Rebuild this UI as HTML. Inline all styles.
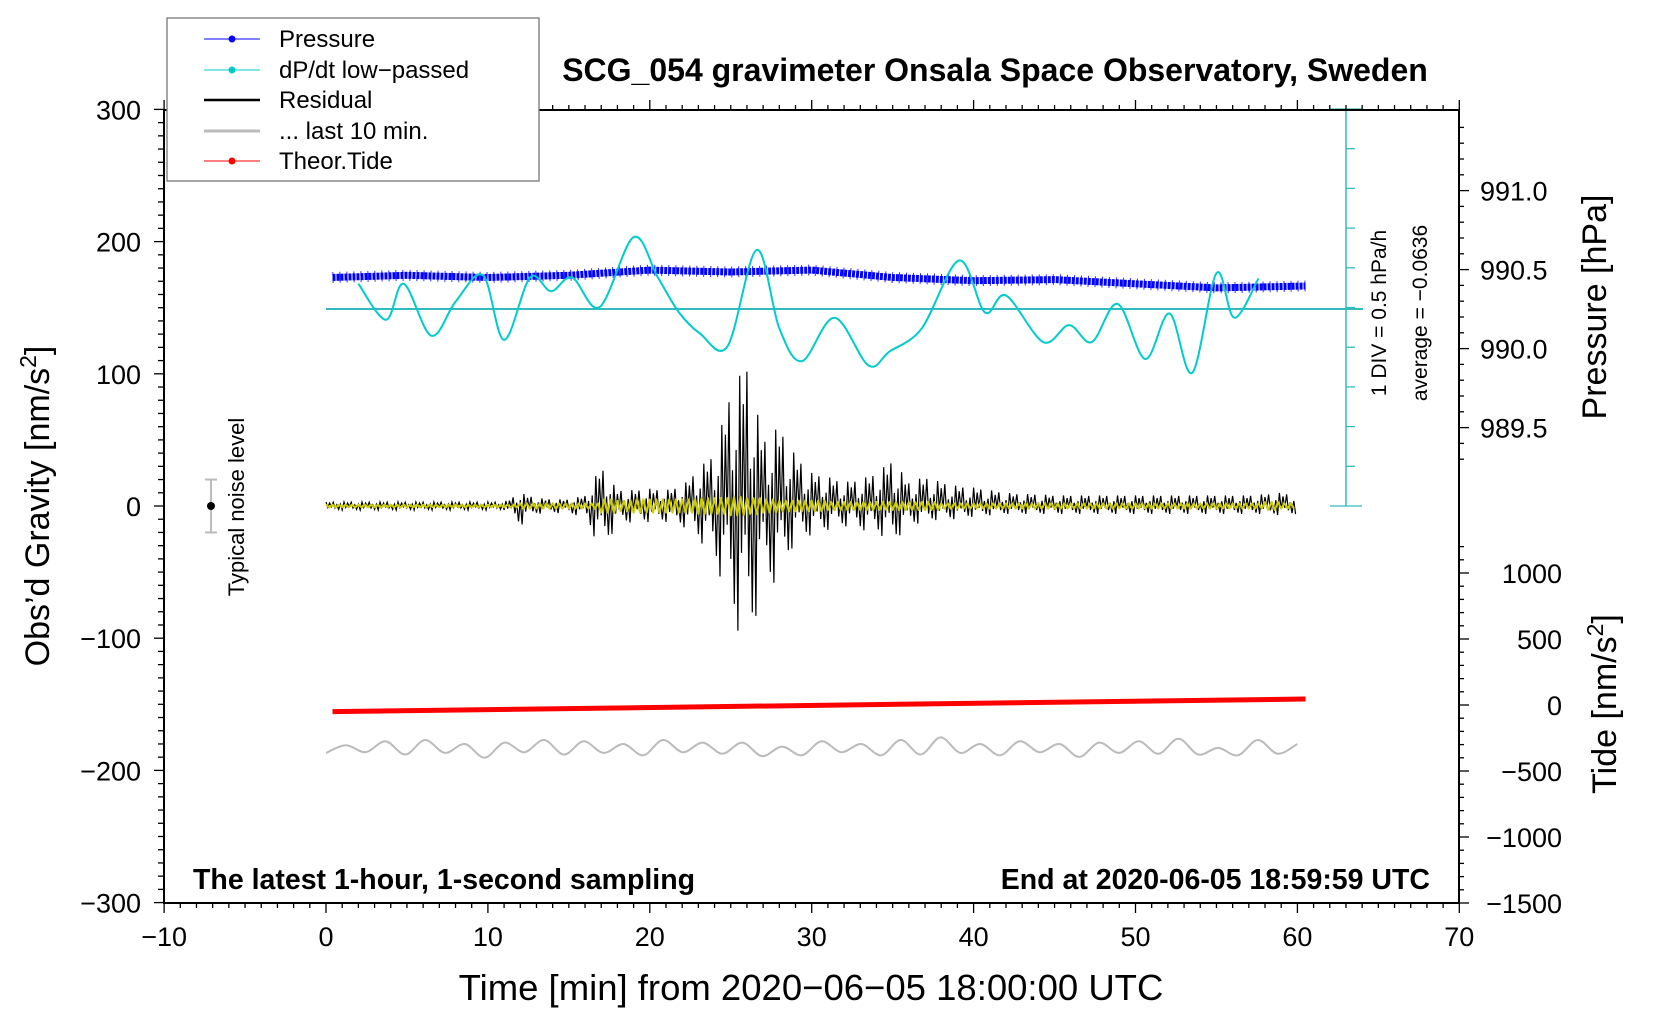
<!DOCTYPE html>
<html><head><meta charset="utf-8">
<style>
html,body{margin:0;padding:0;background:#fff;}
svg{display:block;font-family:"Liberation Sans",Arial,sans-serif;}
</style></head>
<body>
<svg id="chart" width="1660" height="1020" viewBox="0 0 1660 1020" xmlns="http://www.w3.org/2000/svg">
<rect x="0" y="0" width="1660" height="1020" fill="#fff"/>
<g id="marks"></g>
<g id="axes"></g>
<text x="995" y="81" text-anchor="middle" font-size="32" font-weight="bold">SCG_054 gravimeter Onsala Space Observatory, Sweden</text>
<text x="193" y="889" font-size="28.5" font-weight="bold">The latest 1-hour, 1-second sampling</text>
<text x="1430" y="889" text-anchor="end" font-size="28.5" font-weight="bold">End at 2020-06-05 18:59:59 UTC</text>
<text x="811" y="1000" text-anchor="middle" font-size="36.5">Time [min] from 2020−06−05 18:00:00 UTC</text>
<text transform="translate(49,506) rotate(-90)" text-anchor="middle" font-size="34">Obs’d Gravity [nm/s<tspan font-size="23" dy="-13">2</tspan><tspan dy="13">]</tspan></text>
<text transform="translate(1606,307) rotate(-90)" text-anchor="middle" font-size="34">Pressure [hPa]</text>
<text transform="translate(1616,704) rotate(-90)" text-anchor="middle" font-size="34">Tide [nm/s<tspan font-size="23" dy="-13">2</tspan><tspan dy="13">]</tspan></text>
<text transform="translate(1386,313) rotate(-90)" text-anchor="middle" font-size="21">1 DIV = 0.5 hPa/h</text>
<text transform="translate(1427,313) rotate(-90)" text-anchor="middle" font-size="21">average = −0.0636</text>
<text transform="translate(244,507) rotate(-90)" text-anchor="middle" font-size="22">Typical noise level</text>
<g>
<rect x="167" y="18" width="372" height="163" fill="#fff" stroke="#777" stroke-width="1.3"/>
<line x1="204" y1="39" x2="260" y2="39" stroke="#0000ff" stroke-width="1"/><circle cx="232" cy="39" r="3.5" fill="#0000ff"/>
<text x="279" y="47" font-size="24">Pressure</text>
<line x1="204" y1="70" x2="260" y2="70" stroke="#00cccc" stroke-width="1"/><circle cx="232" cy="70" r="3.5" fill="#00cccc"/>
<text x="279" y="78" font-size="24">dP/dt low−passed</text>
<line x1="204" y1="100" x2="260" y2="100" stroke="#000" stroke-width="2.5"/>
<text x="279" y="108" font-size="24">Residual</text>
<line x1="204" y1="131" x2="260" y2="131" stroke="#bbb" stroke-width="3"/>
<text x="279" y="139" font-size="24">... last 10 min.</text>
<line x1="204" y1="161" x2="260" y2="161" stroke="#ff0000" stroke-width="1"/><circle cx="232" cy="161" r="3.5" fill="#ff0000"/>
<text x="279" y="169" font-size="24">Theor.Tide</text>
</g>
</svg>
<script>
// ---- data ----
var xTicks = [-10,0,10,20,30,40,50,60,70];
var yTicks = [300,200,100,0,-100,-200,-300];
var pTicks = [991.0,990.5,990.0,989.5];
var tideTicks = [1000,500,0,-500,-1000,-1500];
var pressureTimes = [0.4,5,10,15,20,25,30,35,40,45,50,55,60.5];
var pressureVals = [990.450,990.464,990.450,990.464,990.497,990.485,990.497,990.450,990.430,990.437,990.410,990.384,990.396];
var dpdtTimes = [2,3.7,4.8,6.5,8,9.7,11,12.6,13.9,15.2,16.9,19,20.5,21.8,23.1,24.8,26.6,28,29.4,31.4,33.5,34.8,36.8,39.1,40.7,42,44.3,45.9,47.3,48.9,50.6,52.1,53.5,55,56.1,57.6];
var dpdtVals = [0.254,-0.200,0.254,-0.400,0.027,0.361,-0.453,0.333,0.161,0.333,-0.040,0.841,0.333,-0.106,-0.373,-0.533,0.681,-0.307,-0.720,-0.173,-0.774,-0.600,-0.307,0.547,-0.106,0.106,-0.480,-0.266,-0.480,0.001,-0.693,-0.120,-0.867,0.387,-0.173,0.321];
var dpdtAverage = -0.0636;
var residUp = [3,3,3,3,3,3,3,3,3,3,3,3,10,6,5,5,8,30,12,12,13,12,15,28,40,88,107,50,60,38,25,22,18,20,25,35,18,22,18,15,14,12,10,9,9,8,8,8,8,8,8,8,8,8,8,8,8,8,9,10,8];
var residDown = [-3,-3,-3,-3,-3,-3,-3,-3,-3,-3,-3,-3,-15,-6,-5,-6,-8,-35,-14,-12,-12,-12,-15,-25,-40,-80,-112,-60,-57,-25,-22,-18,-15,-18,-20,-28,-15,-12,-10,-10,-8,-7,-6,-6,-6,-6,-6,-6,-6,-6,-6,-6,-6,-6,-6,-6,-6,-6,-6,-7,-6];
var yellowAmp = [1,1,1,1,1,1,1,1,1,1,1,1,2,2,2,2,2,5,4,5,5,5,5,6,6,7,6,5,4,4,4,3,3,3,3,3,3,3,2,2,2,2,2,2,2,2,2,2,2,2,2,2,2,2,2,2,2,2,3,2,2];
var tideTimes = [0.4,60.5];
var tideVals = [-50,45];
var lastBase = -185;
var lastAmp = [3,4,2,7,5,8,3,5,9,6,2,8,5,7,3,5,6,8,2,6,4,6,7,3,6,7,2,5,6,8,5,10,3,5,6,7,2,5,8,6,3,7,4,9,5,2,6,8,4,5];
// ---- scales ----
function X(t){return 326 + t*16.19;}
function Y(g){return 506 - g*1.322;}
function YP(p){return 190.6 + (991.0-p)*158;}
function YT(v){return 705 - v*0.132;}
function YD(v){return 309 - (v-dpdtAverage)/0.5*39.7;}
var NS="http://www.w3.org/2000/svg";
var marks=document.getElementById('marks'), axes=document.getElementById('axes');
function mk(tag,attrs,parent){var e=document.createElementNS(NS,tag);for(var k in attrs)e.setAttribute(k,attrs[k]);(parent||marks).appendChild(e);return e;}
var avg=mk('line',{x1:X(0),x2:1363,y1:YD(dpdtAverage),y2:YD(dpdtAverage),stroke:'#33bbbb','stroke-width':2});


var dax=mk('line',{x1:1346,x2:1346,y1:109,y2:506,stroke:'#33bbbb','stroke-width':1.5});


for(var i=0;i<=10;i++){var yy=506-i*39.7;var w=(i==0||i==10)?16:0;mk('line',{x1:1346-w,x2:1346+(w?16:9),y1:yy,y2:yy,stroke:'#33bbbb','stroke-width':1.3});}
var pd='';
for(var i=0;i<pressureTimes.length;i++){pd+=(i?'L':'M')+X(pressureTimes[i]).toFixed(1)+' '+YP(pressureVals[i]).toFixed(1);}
var pl=mk('path',{d:pd,stroke:'#0000ff','stroke-width':7,fill:'none','stroke-linejoin':'round','stroke-dasharray':'3 1'});


var pl2=mk('path',{d:pd,stroke:'#0000ff','stroke-width':11,fill:'none','stroke-dasharray':'1 6','stroke-opacity':0.8});


function smooth(xs,ys){var d='M'+xs[0]+' '+ys[0];for(var i=0;i<xs.length-1;i++){var x0=xs[Math.max(i-1,0)],y0=ys[Math.max(i-1,0)],x1=xs[i],y1=ys[i],x2=xs[i+1],y2=ys[i+1],x3=xs[Math.min(i+2,xs.length-1)],y3=ys[Math.min(i+2,xs.length-1)];d+='C'+(x1+(x2-x0)/6).toFixed(1)+' '+(y1+(y2-y0)/6).toFixed(1)+' '+(x2-(x3-x1)/6).toFixed(1)+' '+(y2-(y3-y1)/6).toFixed(1)+' '+x2.toFixed(1)+' '+y2.toFixed(1);}return d;}
var dx=dpdtTimes.map(X), dy=dpdtVals.map(YD);
var dl=mk('path',{d:smooth(dx,dy),stroke:'#00cccc','stroke-width':2,fill:'none'});


var pat=[1,0.35,0.75,0.2,0.95,0.5,0.3,0.85,0.45,1];
var rd='',k=0,N=9;
for(var m=0;m<60;m++){for(var s=0;s<N;s++){var t=m+s/N;var up=residUp[m]+(residUp[m+1]-residUp[m])*s/N;var dn=residDown[m]+(residDown[m+1]-residDown[m])*s/N;var f=pat[k%pat.length];var v=(k%2==0)?up*f:dn*f;rd+=(k?'L':'M')+X(t).toFixed(1)+' '+Y(v).toFixed(1);k++;}}
var rl=mk('path',{d:rd,stroke:'#000','stroke-width':1.2,fill:'none'});


var yd='';k=0;
for(var m=0;m<60;m++){for(var s=0;s<5;s++){var t=m+s/5;var a=yellowAmp[m];var v=(k%2==0)?a:-a;yd+=(k?'L':'M')+X(t).toFixed(1)+' '+Y(v).toFixed(1);k++;}}
var yl=mk('path',{d:yd,stroke:'#cccc00','stroke-width':2,fill:'none','stroke-linejoin':'round'});


var gx=[],gy=[];
for(var i=0;i<lastAmp.length;i++){var t=i*60/(lastAmp.length-1);var v=lastBase+((i%2==0)?-lastAmp[i]*0.6:lastAmp[i]);gx.push(X(t));gy.push(Y(v));}
var gl=mk('path',{d:smooth(gx,gy),stroke:'#bbb','stroke-width':2,fill:'none'});


var tl=mk('line',{x1:X(tideTimes[0]),y1:YT(tideVals[0]),x2:X(tideTimes[1]),y2:YT(tideVals[1]),stroke:'#ff0000','stroke-width':5});


mk('line',{x1:211,x2:211,y1:Y(20),y2:Y(-20),stroke:'#bbb','stroke-width':2});
mk('line',{x1:205,x2:217,y1:Y(20),y2:Y(20),stroke:'#bbb','stroke-width':2});
mk('line',{x1:205,x2:217,y1:Y(-20),y2:Y(-20),stroke:'#bbb','stroke-width':2});
var nd=mk('circle',{cx:211,cy:Y(0),r:4,fill:'#000'});


var fr=mk('rect',{x:164,y:110,width:1295,height:793,fill:'none',stroke:'#000','stroke-width':2},axes);


for(var t=-10;t<=70;t++){var x=X(t),mj=t%10==0;mk('line',{x1:x,x2:x,y1:903,y2:903+(mj?10:5),stroke:'#000','stroke-width':1.3},axes);mk('line',{x1:x,x2:x,y1:110,y2:110-(mj?10:5),stroke:'#000','stroke-width':1.3},axes);}
xTicks.forEach(function(v){var e=mk('text',{x:X(v),y:946,'text-anchor':'middle','font-size':27},axes);e.textContent=String(v).replace('-','−');

});
for(var g=-300;g<=300;g+=10){var y=Y(g),mj=g%100==0;mk('line',{x1:164-(mj?10:6),x2:164,y1:y,y2:y,stroke:'#000','stroke-width':1.3},axes);}
yTicks.forEach(function(v){var e=mk('text',{x:141,y:Y(v)+10,'text-anchor':'end','font-size':27},axes);e.textContent=String(v).replace('-','−');

});
for(var p=989.3;p<=991.45;p+=0.1){var y=YP(p);if(y<112||y>506)continue;var mj=Math.abs(p*2-Math.round(p*2))<0.01;mk('line',{x1:1459,x2:1459+(mj?10:5),y1:y,y2:y,stroke:'#000','stroke-width':1.3},axes);}
pTicks.forEach(function(v){var e=mk('text',{x:1480,y:YP(v)+10,'font-size':27},axes);e.textContent=v.toFixed(1);

});
for(var v=-1500;v<=1300;v+=100){var y=YT(v);if(y<540)continue;var mj=v%500==0;mk('line',{x1:1459,x2:1459+(mj?10:5),y1:y,y2:y,stroke:'#000','stroke-width':1.3},axes);}
tideTicks.forEach(function(v){var e=mk('text',{x:1562,y:YT(v)+10,'text-anchor':'end','font-size':27},axes);e.textContent=String(v).replace('-','−');

});
</script>
</body></html>
